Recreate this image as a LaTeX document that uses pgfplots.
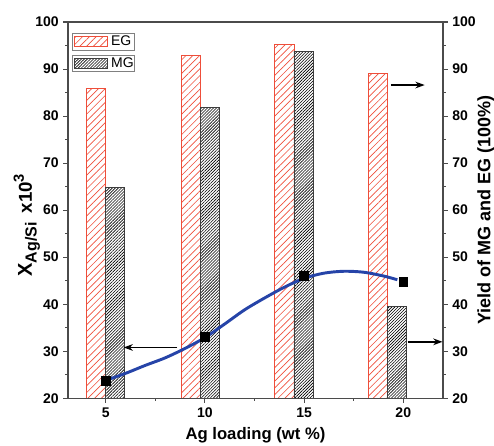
\documentclass[border=0pt]{standalone}
\usepackage{fontspec}
\setmainfont{Liberation Sans}
\usepackage{pgfplots}
\pgfplotsset{compat=1.18}
\usetikzlibrary{patterns.meta, arrows.meta}
\definecolor{egred}{RGB}{238,78,58}
\definecolor{mgdark}{RGB}{60,60,60}
\definecolor{fitblue}{RGB}{38,68,168}
\definecolor{axgray}{RGB}{75,75,75}

\begin{document}
\begin{tikzpicture}[font=\bfseries]
\pgfplotsset{
  base/.style={
    width=281pt, height=282pt, scale only axis,
    xmin=3.1, xmax=22, ymin=20, ymax=100,
    ytick={20,30,...,100}, minor ytick={25,35,...,95},
    tick align=outside,
    major tick length=3.5pt, minor tick length=2pt,
    every tick/.style={axgray, line width=0.8pt},
    axis line style={axgray, line width=1.1pt},
    /pgf/number format/assume math mode=true,
    ticklabel style={font=\fontsize{10.5}{12}\selectfont\bfseries},
  }
}
% yields (right axis)
\begin{axis}[base,
  axis x line=none, axis y line*=right,
  ylabel={Yield of MG and EG (100\%)},
  ylabel style={font=\fontsize{13.5}{15}\selectfont\bfseries,
    at={(axis description cs:1.114,0.5)}, anchor=center},
  legend style={draw=none, fill=none, at={(0.012,0.975)}, anchor=north west,
    row sep=3.5pt, font=\fontsize{10.5}{12}\selectfont\mdseries, inner sep=1pt},
  legend cell align=left,
  legend image code/.code={
    \path[draw=gray, fill=white, line width=0.6pt, overlay] (-1.5pt,-6.3pt) rectangle (45pt,6.3pt);
    \draw[#1] (0pt,-4pt) rectangle (25pt,4pt);
  },
]
\addplot[ybar, bar width=0.96, bar shift=0pt, draw=egred, line width=0.7pt,
  pattern={Lines[angle=45, distance=3.6pt, line width=0.5pt]}, pattern color=egred]
  coordinates {(4.49,85.8) (9.28,92.8) (14.01,95.2) (18.74,89.0)};
\addlegendentry{EG}
\addplot[ybar, bar width=0.96, bar shift=0pt, draw=mgdark, line width=0.7pt,
  pattern={Lines[angle=45, distance=1.6pt, line width=0.45pt]}, pattern color=black]
  coordinates {(5.45,64.8) (10.24,81.8) (14.97,93.8) (19.70,39.6)};
\addlegendentry{MG}
\end{axis}
% X_Ag/Si (left axis)
\begin{axis}[base,
  ytick pos=left, xtick pos=bottom,
  xtick={5,10,15,20}, minor xtick={7.5,12.5,17.5},
  xlabel={Ag loading (wt \%)},
  xlabel style={font=\fontsize{12.5}{14}\selectfont\bfseries,
    at={(axis description cs:0.5,-0.0975)}, anchor=center},
  ylabel={{\fontsize{15}{17}\selectfont X}\raisebox{-3.5pt}{\fontsize{12}{14}\selectfont Ag/Si}
    {\fontsize{14}{16}\selectfont\ x10}\raisebox{6pt}{\fontsize{11}{13}\selectfont 3}},
  ylabel style={at={(axis description cs:-0.11,0.46)}, anchor=center},
]
\addplot[fitblue, line width=2.2pt, smooth] coordinates {
  (5,23.8) (6,25.3) (7,27.0) (8,28.6) (9,30.6) (10,32.9) (11,35.8) (12,38.8)
  (13,41.3) (14,43.6) (15,45.5) (16,46.6) (17,47.0) (18,46.8) (19,46.0) (19.7,45.2)};
\addplot[only marks, mark=square*, mark size=3.3pt, black]
  coordinates {(5,23.8) (10,33.0) (15,46.0) (20,44.8)};
\draw[-{Stealth[length=7pt, width=5pt]}, line width=1.1pt, black]
  (axis cs:8.6,30.8) -- (axis cs:5.9,30.8);
\draw[-{Stealth[length=7pt, width=5pt]}, line width=1.1pt, black]
  (axis cs:19.37,86.6) -- (axis cs:21.08,86.6);
\draw[-{Stealth[length=7pt, width=5pt]}, line width=1.1pt, black]
  (axis cs:20.22,32.0) -- (axis cs:21.98,32.0);
\end{axis}
\pgfresetboundingbox
\path[use as bounding box] ([shift={(-51pt,-35.25pt)}]current axis.south west)
  rectangle ([shift={(38.25pt,16.5pt)}]current axis.north east);
\end{tikzpicture}
\end{document}
